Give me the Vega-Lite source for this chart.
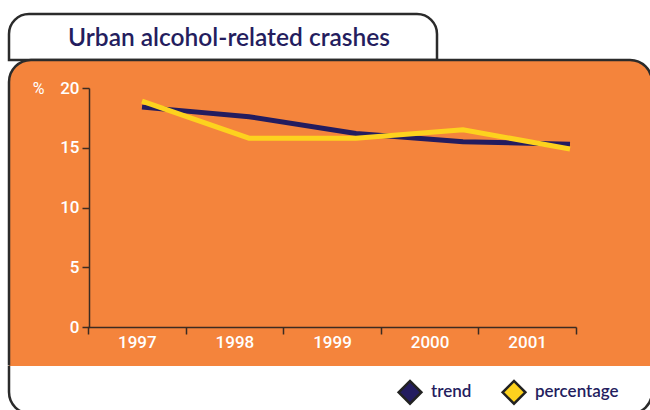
{
  "$schema": "https://vega.github.io/schema/vega-lite/v6.json",
  "padding": {"left": 7, "top": 12, "right": 0, "bottom": 0},
  "background": "white",
  "spacing": 0,
  "bounds": "flush",
  "resolve": {"scale": {"color": "independent"}, "legend": {"color": "independent"}},
  "config": {
    "style": {
      "cell": {"cornerRadiusTopLeft": 22, "cornerRadiusTopRight": 22},
      "titlebox": {"cornerRadiusTopLeft": 20, "cornerRadiusTopRight": 20},
      "mainbox": {"cornerRadiusTopLeft": 22, "cornerRadiusTopRight": 22},
      "legbox": {"cornerRadiusBottomLeft": 22, "cornerRadiusBottomRight": 22}
    }
  },
  "data": {"values": [
    {"series": "trend", "year": 1997, "value": 18.4},
    {"series": "trend", "year": 1998, "value": 17.6},
    {"series": "trend", "year": 1999, "value": 16.2},
    {"series": "trend", "year": 2000, "value": 15.5},
    {"series": "trend", "year": 2001, "value": 15.3},
    {"series": "percentage", "year": 1997, "value": 18.9},
    {"series": "percentage", "year": 1998, "value": 15.8},
    {"series": "percentage", "year": 1999, "value": 15.8},
    {"series": "percentage", "year": 2000, "value": 16.5},
    {"series": "percentage", "year": 2001, "value": 14.9}
  ]},
  "vconcat": [
    {
      "width": 428,
      "height": 46,
      "view": {"style": "titlebox", "fill": "white", "stroke": "#2b2b2b", "strokeWidth": 2.5},
      "data": {"values": [{"label": "Urban alcohol-related crashes"}]},
      "mark": {"type": "text", "font": "Lato", "fontSize": 24.5, "fontWeight": 600, "color": "#241d5e", "align": "center", "baseline": "middle", "dy": 2, "dx": 6},
      "encoding": {"text": {"field": "label"}}
    },
    {
      "width": 643,
      "height": 306,
      "view": {"style": ["cell", "mainbox"], "fill": "#f4843c", "stroke": "#2b2b2b", "strokeWidth": 2.5, "strokeDash": [918, 643, 330, 10]},
      "layer": [
        {
          "mark": {"type": "point", "opacity": 0},
          "encoding": {
            "x": {"field": "year", "type": "ordinal",
              "scale": {"type": "band", "range": [79, 567], "paddingInner": 0, "paddingOuter": 0},
              "axis": {"orient": "bottom", "offset": -39, "title": null, "labelAngle": 0, "tickBand": "extent",
                "domainColor": "#3b2b22", "domainWidth": 1.5, "tickColor": "#3b2b22", "tickWidth": 1.5, "tickSize": 7,
                "labelColor": "white", "labelFont": "Roboto", "labelFontSize": 17, "labelFontWeight": 500, "labelPadding": 0, "grid": false}},
            "y": {"field": "value", "type": "quantitative"}
          }
        },
        {
          "mark": {"type": "line", "strokeWidth": 5, "strokeCap": "butt", "strokeJoin": "miter"},
          "encoding": {
            "x": {"field": "year", "type": "quantitative", "scale": {"domain": [1997, 2001], "range": [133, 561]}, "axis": null},
            "y": {"field": "value", "type": "quantitative",
              "scale": {"domain": [0, 20], "range": [267, 28], "nice": false},
              "axis": {"orient": "left", "offset": -80, "values": [0, 5, 10, 15, 20], "grid": false,
                "domainColor": "#3b2b22", "domainWidth": 1.5, "tickColor": "#3b2b22", "tickWidth": 1.5, "tickSize": 7,
                "labelColor": "white", "labelFont": "Roboto", "labelFontSize": 17, "labelFontWeight": 500, "labelPadding": 3,
                "title": "%", "titleAngle": 0, "titleX": -51, "titleY": 28, "titleColor": "white", "titleFont": "Roboto",
                "titleFontSize": 16, "titleFontWeight": 400, "titleAlign": "center", "titleBaseline": "middle"}},
            "color": {"field": "series", "type": "nominal",
              "scale": {"domain": ["trend", "percentage"], "range": ["#231c5f", "#fdd21e"]}, "legend": null}
          }
        }
      ],
      "resolve": {"scale": {"x": "independent"}, "axis": {"x": "independent"}}
    },
    {
      "width": 643,
      "height": 48,
      "view": {"style": "legbox", "fill": "white", "stroke": "#2b2b2b", "strokeWidth": 2.5, "strokeDash": [0, 643, 2000, 0]},
      "mark": {"type": "point", "filled": true, "opacity": 0},
      "encoding": {
        "color": {"field": "series", "type": "nominal",
          "scale": {"domain": ["trend", "percentage"], "range": ["#231c5f", "#fdd21e"]},
          "legend": {"orient": "none", "legendX": 388, "legendY": 13, "direction": "horizontal", "title": null,
            "symbolType": "diamond", "symbolSize": 520, "symbolOpacity": 1, "symbolStrokeColor": "#222222", "symbolStrokeWidth": 2.5,
            "labelColor": "#241d5e", "labelFont": "Lato", "labelFontSize": 17, "labelFontWeight": 600, "labelOffset": 8,
            "columnPadding": 25, "padding": 0}}
      }
    }
  ]
}
